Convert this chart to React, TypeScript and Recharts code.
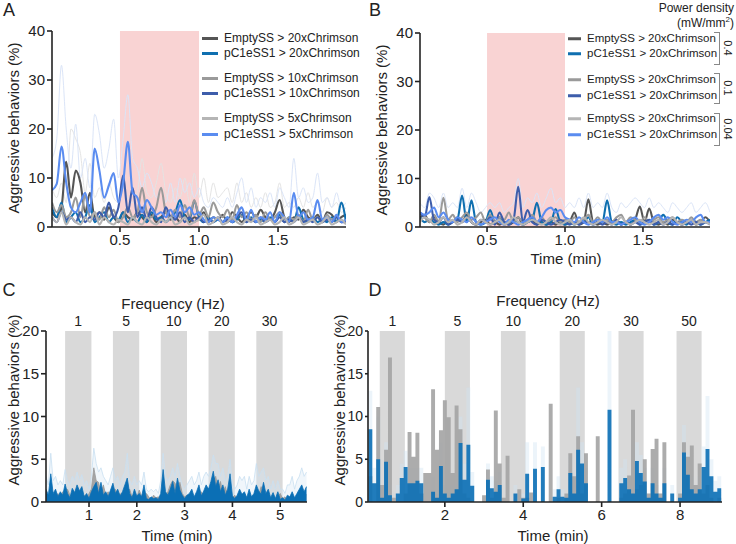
import { ComposedChart, Line, Area, XAxis, YAxis, ReferenceArea } from 'recharts'

// panel A / B: time starts at 0.07 min, one sample every 0.03 min
const abStart = 0.07
const abStep = 0.03

const aDarkGray = [3, 2, 4, 13.3, 6, 11.5, 9, 3, 7, 2, 3, 1.5, 4, 2, 1, 3, 2, 1.5, 3, 2, 1, 2.5, 1, 2, 3, 1.5, 2, 1, 2.5, 1, 2, 1.5, 3, 1, 2, 1.5, 2.5, 1, 3, 2, 1, 2, 3, 2, 3.5, 2, 1.5, 3, 5.5, 2, 1, 2, 1.5, 3.5, 2, 1.5, 2.5, 1, 3, 2.5, 1, 2, 2.5]
const aBlue = [4, 2, 5, 1, 2, 3, 1, 2, 4.5, 1, 2, 3, 1, 2, 1.5, 3, 1, 2, 1, 2.5, 1, 3, 1.5, 2, 1, 2, 3, 5.5, 2, 1.5, 5.3, 2, 1, 2, 1, 1.5, 1, 2, 1, 1.5, 2.5, 1, 2, 1, 1.5, 1, 2, 1, 2.5, 1, 2, 1, 4, 1.5, 1, 2, 1, 1.5, 1, 2, 1, 5, 1]
const aGray = [5, 3, 4.5, 2, 3, 6, 2, 6.5, 2, 3, 1.5, 4, 2, 3.5, 1, 2, 4, 2, 3, 8, 3, 2, 4, 8, 3, 2, 3.5, 2, 4.5, 2, 5.5, 2.5, 4, 2, 5, 3, 2, 3.5, 1.5, 4.5, 2, 3, 1.5, 2.5, 1, 3, 1.5, 2, 3, 1, 2, 1.5, 2.5, 1, 3.5, 1.5, 2, 1, 2.5, 1.5, 2, 1, 1.5]
const aDarkBlue = [2, 1, 3, 1.5, 2, 1, 3, 1, 2, 1.5, 3, 2, 5, 2, 4, 10.5, 3, 8, 2, 4, 1.5, 4, 2, 1, 4, 2, 1.5, 3, 1, 2, 1, 2, 1, 1.5, 1, 2, 1, 1.5, 1, 2, 3, 1, 1.5, 1, 2, 1, 1.5, 1, 2, 1, 1.5, 1, 2, 1, 1.5, 1, 2, 1, 1.5, 1, 2, 1, 1]
const aLightGray = [2, 1, 3, 0.5, 2, 1, 0.5, 2, 1, 3, 0.5, 2, 1, 0.5, 1.5, 1, 0.5, 2, 1, 0.5, 2, 1, 0.5, 1.5, 1, 2, 0.5, 1, 2, 0.5, 1, 1.5, 2.5, 0.5, 1, 2, 0.5, 1, 2, 1, 0.5, 1.5, 1, 2, 0.5, 1, 1.5, 0.5, 1, 2, 0.5, 1, 2, 0.5, 1, 1.5, 0.5, 1, 2, 0.5, 1, 1.5, 0.5]
const aLightBlue = [7.5, 8.8, 16.4, 9, 4, 3, 5, 7, 3, 16, 11.5, 6, 8.5, 11, 5, 9, 17.4, 7, 6, 3, 5.5, 4, 2.5, 3, 2, 3.5, 2, 4.5, 3, 4, 2.5, 3, 1.5, 1, 2, 1.5, 1, 2, 1, 2.5, 4, 1.5, 3.5, 1, 2, 1.5, 3, 1, 3, 2, 1, 7, 2, 3, 1.5, 2, 5.5, 1.5, 2, 1, 2.5, 1, 1.5]
const aUpperBlue = [14, 18, 33, 20, 12, 21, 10, 14, 8, 23, 19, 12, 16, 22, 10, 18, 27, 14, 12, 8, 11, 9, 6, 8, 5, 9, 5, 10, 7, 9, 6, 8, 5, 4, 6, 5, 4, 6, 4, 7, 10, 5, 8, 4, 6, 5, 7, 4, 8, 6, 4, 14, 6, 8, 5, 6, 11, 5, 6, 4, 7, 4, 5]
const aUpperGray = [8, 6, 9, 5, 20, 18, 15, 7, 13, 6, 8, 5, 9, 6, 5, 8, 6, 5, 7, 14, 7, 6, 9, 13, 7, 5, 8, 6, 10, 5, 11, 6, 10, 5, 9, 6, 7, 8, 5, 9, 5, 7, 4, 6, 4, 7, 4, 5, 9, 4, 5, 4, 6, 4, 7, 4, 5, 3, 6, 4, 5, 3, 4]

const bDarkGray = [2, 2.5, 1, 2, 1, 0.5, 1.5, 1, 2, 1, 2.5, 1, 0.5, 1, 1.5, 0.5, 1, 0.5, 1, 0.5, 1, 2, 0.5, 1, 1.5, 0.5, 1, 0.5, 1, 0.5, 1, 0.5, 1, 3, 0.5, 1, 5.7, 1, 0.5, 1, 0.5, 1, 1.5, 0.5, 1, 0.5, 1.5, 4.2, 1, 3.8, 1, 0.5, 1, 0.5, 1.5, 1, 0.5, 1, 1.5, 0.5, 1, 2, 1]
const bBlue = [2, 1, 1.5, 1, 0.5, 1, 0.5, 1, 1.5, 6.5, 1, 5.5, 1, 0.5, 1, 3.5, 1, 2, 0.5, 1, 1.5, 1, 0.5, 1, 1.5, 5, 1, 0.5, 1, 3.7, 1, 0.5, 1, 0.5, 1, 1, 2, 0.5, 1, 1, 5.5, 1, 0.5, 1, 0.5, 1, 1.5, 0.5, 1, 1.5, 0.5, 1, 2.5, 1, 0.5, 2, 1, 0.5, 1.5, 1, 0.5, 1, 1.5]
const bGray = [3, 2, 1, 2.5, 1, 6, 1.5, 2.5, 1, 2, 3, 1.5, 2, 3, 1, 2.5, 1, 2, 1.5, 3, 1, 2, 1, 1.5, 2.5, 1, 2, 1, 1.5, 2, 1, 1.5, 1, 2, 1, 1.5, 2.5, 1, 2, 1, 1.5, 1, 2, 2.5, 1, 2, 1.5, 1, 2, 1, 1.5, 2, 1, 1.5, 2, 1, 1.5, 1, 2, 1, 1.5, 1, 1]
const bDarkBlue = [3, 2, 6.2, 1.5, 1, 2, 0.5, 1, 1.5, 1, 2, 1, 0.5, 1.5, 1, 2, 0.5, 3, 1, 0.5, 1.5, 8.3, 1, 3.5, 1, 0.5, 1.5, 1, 0.5, 1, 1.5, 1, 0.5, 1, 0.5, 1, 1, 0.5, 1, 0.5, 1, 0.5, 1.5, 0.5, 1, 0.5, 1, 0.5, 1, 1.5, 0.5, 1, 0.5, 1, 0.5, 1, 0.5, 1, 0.5, 1, 0.5, 1, 0.5]
const bLightGray = [1, 2, 1.5, 0.5, 1, 2, 1, 1.5, 0.5, 1, 2, 1, 0.5, 1.5, 1, 0.5, 1, 1.5, 0.5, 1, 2, 1, 0.5, 1, 1.5, 1, 0.5, 1, 2, 1, 0.5, 1, 1.5, 0.5, 1, 2, 1, 0.5, 1, 1.5, 1, 0.5, 1, 2, 1, 0.5, 1, 1.5, 1, 0.5, 1, 1.5, 0.5, 1, 2, 1, 0.5, 1, 1.5, 0.5, 1, 1, 0.5]
const bLightBlue = [3, 2.5, 3, 4, 2, 3, 1.5, 1, 2, 1.5, 1, 2, 1, 0.5, 1, 1.5, 2, 1, 0.5, 1.5, 1, 0.5, 1, 1.5, 2, 1, 2, 3.5, 4, 3, 3.5, 2, 1.5, 1, 2, 1, 0.5, 1, 1.5, 1, 2, 1, 1, 0.5, 1, 1.5, 2, 1, 0.5, 1, 2, 2.5, 1.5, 2, 1, 0.5, 1, 1.5, 1, 2, 2.5, 1, 1]
const bUpper = [5, 4, 7, 6, 4, 7, 4, 5, 4, 8, 4, 7, 5, 3, 4, 5, 4, 5, 3, 4, 5, 10, 4, 6, 5, 7, 4, 6, 8, 5, 6, 4, 5, 4, 6, 4, 7, 4, 5, 4, 7, 4, 3, 5, 4, 5, 6, 5, 4, 6, 4, 5, 4, 3, 5, 4, 3, 4, 5, 3, 4, 5, 3]

// panel C: from 0.1 min, every 0.05 min
const cStart = 0.1
const cStep = 0.05
const cBlue = [1.5, 0.8, 3.3, 1, 1.5, 0.6, 1.2, 0.8, 2.1, 1, 0.5, 1.6, 1.1, 2, 1.3, 1.8, 0.6, 1, 0.4, 1.2, 1.8, 2.3, 1, 2.3, 0.8, 1.2, 0.6, 1.4, 2.2, 1, 1.5, 0.7, 1.2, 2, 2.8, 1, 0.5, 1.5, 0.7, 1, 0.6, 2, 0.4, 0.3, 0.6, 0.4, 0.5, 0.3, 1, 3.8, 1.2, 0.8, 1.5, 2.4, 1, 2.8, 1.4, 0.8, 0.4, 0.8, 1, 1.5, 0.6, 1.2, 2, 0.7, 1.3, 2, 1.5, 2.4, 3.6, 1.8, 2.6, 1.2, 2, 0.8, 1.5, 3.3, 0.7, 0.4, 0.8, 1.5, 0.9, 1.2, 0.5, 1.5, 0.6, 1, 2, 1.3, 0.9, 2.3, 1, 1.5, 0.5, 1.1, 0.4, 1.2, 0.3, 0.5, 0.2, 0.8, 0.6, 1.2, 0.5, 1, 1.5, 2, 1.2, 1.8]
const cGray = [1, 0.5, 1.2, 0.8, 0.6, 1, 0.4, 1.2, 0.7, 1.5, 0.8, 0.5, 1, 0.6, 1.2, 0.5, 0.8, 0.3, 1, 1.5, 4, 2.5, 2.3, 1, 2, 0.8, 1.2, 0.6, 1, 1.5, 0.7, 1, 0.4, 1.2, 0.8, 1.5, 0.6, 1, 0.5, 1.4, 0.7, 0.4, 1, 0.6, 0.3, 0.8, 0.5, 0.6, 0.4, 1, 0.7, 1.2, 2, 2.5, 2.2, 1.5, 2.3, 1, 0.6, 0.8, 0.5, 1, 0.4, 0.9, 0.6, 1.2, 0.5, 1, 1.6, 1.2, 2.5, 3, 1.5, 2.4, 1, 1.8, 0.8, 1.2, 0.5, 0.8, 0.3, 0.6, 0.4, 1, 0.5, 0.8, 0.3, 0.6, 1.2, 0.8, 1.8, 1.2, 0.7, 1, 0.4, 0.8, 0.3, 0.6, 1, 0.4, 0.6, 0.3, 0.5, 0.8, 0.4, 0.7, 1, 0.6, 1.2, 0.8]
const cUpper = [3, 2, 5.7, 2.5, 3, 2, 2.5, 2, 3.8, 2.5, 2, 3, 2.5, 3.5, 2.5, 3.2, 2, 2.5, 1.5, 3, 6.3, 4.5, 3.5, 4, 3, 2.5, 2, 3, 4, 2.5, 3, 2, 3, 3.5, 5.7, 2.5, 2, 3, 2, 2.5, 2, 3.5, 1.5, 1.2, 1.5, 1.2, 1.5, 1, 2.5, 5.7, 3, 2.5, 3, 4, 3, 4.5, 3, 2, 1.5, 2, 2.5, 3, 2, 2.5, 3.5, 2, 3, 3.5, 3, 4, 5.5, 4.5, 4.5, 3, 4, 2.5, 3, 5, 2, 1.5, 2, 3, 2.5, 3, 1.5, 3, 2, 2.5, 4.5, 3, 3.5, 4, 2.5, 3, 1.5, 2.5, 1.5, 2.5, 1.5, 1.5, 1, 2, 2, 3, 1.5, 2.5, 3, 4, 3, 3.5]
const cBands = [{ from: 0.5, to: 1.05, label: '1' }, { from: 1.5, to: 2.05, label: '5' }, { from: 2.5, to: 3.05, label: '10' }, { from: 3.5, to: 4.05, label: '20' }, { from: 4.5, to: 5.05, label: '30' }]

// panel D: from 0.05 min, every 0.1 min
const dStart = 0.05
const dStep = 0.1
const dBlue = [8.5, 2.2, 5, 0.5, 4.7, 0.8, 0, 1, 2.8, 4.1, 2.2, 2.2, 2.5, 2.2, 0, 0, 1.2, 0.5, 4.2, 1, 0.5, 1, 1.5, 6.9, 2.6, 6.7, 1.9, 0, 0, 0, 2.6, 1.6, 1.2, 2, 0, 0, 0, 1, 0, 0.4, 3.3, 0, 3.9, 0, 4.1, 0, 0, 0.6, 1.5, 0.6, 0.5, 3.4, 1, 6.1, 4.5, 2.2, 0, 0, 0, 0, 0, 10.8, 0, 0, 2.2, 2.8, 1.5, 1, 4.8, 3.4, 2.4, 0.5, 2.2, 1, 0.5, 2.2, 0, 1, 0, 0.5, 5.8, 3.2, 1.5, 1, 1.5, 4.1, 6.2, 3, 1.2, 1.6, 0.5]
const dGray = [3, 0, 11.1, 2, 6.1, 16.9, 0.5, 0, 0, 1, 8.2, 5.3, 8.1, 1, 3.4, 3.4, 13.2, 6.1, 8.4, 11.9, 9.9, 3.4, 11.3, 8.5, 1, 0.5, 0, 0, 0, 0.8, 3.8, 0.5, 10.7, 4.5, 0.5, 5.4, 0, 0, 1.5, 0.5, 0.5, 1.1, 0, 0, 0, 0, 11.5, 0, 0.5, 0, 1, 5.7, 3, 7.7, 1, 5.7, 0, 0, 7.7, 0, 0, 0, 0, 0, 0.5, 1, 3.1, 10.8, 1.5, 2, 5, 1, 6.2, 7.4, 1, 7, 0, 0, 0, 1, 7, 5.3, 6.6, 2, 4.5, 1, 2, 0.5, 0, 0.5, 0]
const dUpper = [13, 4, 10, 1.5, 7, 2, 0, 2, 4.5, 6, 4, 4, 4, 4, 0, 0, 3, 1, 7, 2, 1, 2, 3, 10, 4.5, 13.4, 3.5, 0, 0, 0, 4.5, 3, 2.5, 3.5, 0, 0, 0, 2, 0, 1, 7, 0, 7, 0, 6.5, 0, 0, 1.5, 3, 1.5, 1, 5.5, 2, 13.4, 7, 4, 0, 0, 0, 0, 0, 20, 0, 0, 4, 5, 3, 2, 7, 5.5, 4, 1, 4, 2, 1, 4, 0, 2, 0, 1, 9, 5.5, 3, 2, 3, 6.5, 12.4, 5, 2.5, 3, 1]
const dBands = [{ from: 0.34, to: 0.98, label: '1' }, { from: 2.0, to: 2.64, label: '5' }, { from: 3.43, to: 4.06, label: '10' }, { from: 4.93, to: 5.57, label: '20' }, { from: 6.43, to: 7.07, label: '30' }, { from: 7.91, to: 8.55, label: '50' }]

const FONT = '"Liberation Sans", Arial, Helvetica, sans-serif'
const INK = '#222'
const col = {
  dark: '#555555',
  blue: '#0f6fb0',
  gray: '#9a9a9a',
  darkBlue: '#3d5dab',
  lightGray: '#b5b5b5',
  lightBlue: '#5a8cf0',
  pink: '#f9d3d3',
  band: '#d9d9d9',
}

const legendA = [
  { name: 'EmptySS > 20xChrimson', color: col.dark, y: 38 },
  { name: 'pC1eSS1 > 20xChrimson', color: col.blue, y: 53 },
  { name: 'EmptySS > 10xChrimson', color: col.gray, y: 78 },
  { name: 'pC1eSS1 > 10xChrimson', color: col.darkBlue, y: 93 },
  { name: 'EmptySS > 5xChrimson', color: col.lightGray, y: 118 },
  { name: 'pC1eSS1 > 5xChrimson', color: col.lightBlue, y: 134 },
]
const legendB = [
  { name: 'EmptySS > 20xChrimson', color: col.dark, y: 39 },
  { name: 'pC1eSS1 > 20xChrimson', color: col.blue, y: 54 },
  { name: 'EmptySS > 20xChrimson', color: col.gray, y: 80 },
  { name: 'pC1eSS1 > 20xChrimson', color: col.darkBlue, y: 96 },
  { name: 'EmptySS > 20xChrimson', color: col.lightGray, y: 119 },
  { name: 'pC1eSS1 > 20xChrimson', color: col.lightBlue, y: 135 },
]
const powerB = [{ label: '0.4', top: 32, bottom: 63 }, { label: '0.1', top: 73, bottom: 102 }, { label: '0.04', top: 113, bottom: 144 }]

const rows = (start: number, step: number, cols: Record<string, number[]>) => {
  const n = Math.max(...Object.values(cols).map((c) => c.length))
  return Array.from({ length: n }, (_, i) => {
    const r: Record<string, number> = { t: +(start + step * i).toFixed(3) }
    for (const k in cols) r[k] = cols[k][i] ?? 0
    return r
  })
}

const dataA = rows(abStart, abStep, { dg: aDarkGray, b: aBlue, g: aGray, db: aDarkBlue, lg: aLightGray, lb: aLightBlue, ub: aUpperBlue, ug: aUpperGray })
const dataB = rows(abStart, abStep, { dg: bDarkGray, b: bBlue, g: bGray, db: bDarkBlue, lg: bLightGray, lb: bLightBlue, ub: bUpper })
const dataC = rows(cStart, cStep, { b: cBlue, g: cGray, u: cUpper })
const dataD = rows(dStart, dStep, { b: dBlue, g: dGray, u: dUpper })

const axisProps = {
  axisLine: { stroke: INK, strokeWidth: 1.6 },
  tickLine: { stroke: INK, strokeWidth: 1.6 },
  tick: { fill: INK, fontSize: 15 },
  tickSize: 5,
}

function Txt({ x, y, size = 15, rotate = 0, children }: { x: number; y: number; size?: number; rotate?: number; children: any }) {
  return (
    <div style={{ position: 'absolute', left: x, top: y, transform: `translate(-50%, -50%) rotate(${rotate}deg)`, fontSize: size, whiteSpace: 'nowrap', color: INK, lineHeight: 1 }}>
      {children}
    </div>
  )
}

function Legend({ items, x, lineW, size }: { items: { name: string; color: string; y: number }[]; x: number; lineW: number; size: number }) {
  return (
    <>
      {items.map((it, i) => (
        <div key={i} style={{ position: 'absolute', left: x, top: it.y, transform: 'translateY(-50%)', display: 'flex', alignItems: 'center', fontSize: size, color: INK, whiteSpace: 'nowrap', lineHeight: 1 }}>
          <span style={{ display: 'inline-block', width: lineW, height: 3, background: it.color, marginRight: 6 }} />
          {it.name}
        </div>
      ))}
    </>
  )
}

function linePanel(withGrayUpper: boolean) {
  const line = (key: string, color: string, w = 2.1) => (
    <Line key={key} dataKey={key} type="monotone" stroke={color} strokeWidth={w} dot={false} isAnimationActive={false} />
  )
  return [
    <XAxis key="x" dataKey="t" type="number" domain={[0.07, 1.93]} ticks={[0.5, 1, 1.5]} tickFormatter={(v: number) => v.toFixed(1)} allowDataOverflow height={30} {...axisProps} />,
    <YAxis key="y" type="number" domain={[0, 40]} ticks={[0, 10, 20, 30, 40]} allowDataOverflow width={40} {...axisProps} />,
    <ReferenceArea key="pink" x1={0.5} x2={1.0} y1={0} y2={40} fill={col.pink} fillOpacity={1} stroke="none" zIndex={-50} />,
    withGrayUpper ? line('ug', '#e4e4e4', 1) : null,
    line('ub', '#dbe5f8', 1),
    line('dg', col.dark),
    line('b', col.blue),
    line('g', col.gray),
    line('db', col.darkBlue),
    line('lb', col.lightBlue),
    line('lg', col.lightGray),
  ]
}

export default function App() {
  return (
    <div style={{ position: 'absolute', left: 0, top: 0, width: 736, height: 544, fontFamily: FONT, background: '#fff', overflow: 'hidden' }}>
      {/* A */}
      <div style={{ position: 'absolute', left: 0, top: 0 }}>
        <ComposedChart width={368} height={272} data={dataA} margin={{ top: 31, right: 22, bottom: 15, left: 12 }}>
          {linePanel(true)}
        </ComposedChart>
      </div>
      {/* B */}
      <div style={{ position: 'absolute', left: 368, top: 0 }}>
        <ComposedChart width={368} height={272} data={dataB} margin={{ top: 33, right: 26, bottom: 15, left: 12 }}>
          {linePanel(false)}
        </ComposedChart>
      </div>
      {/* C */}
      <div style={{ position: 'absolute', left: 0, top: 272 }}>
        <ComposedChart width={368} height={272} data={dataC} margin={{ top: 59, right: 61, bottom: 12, left: 10 }}>
          <XAxis dataKey="t" type="number" domain={[0.1, 5.56]} ticks={[1, 2, 3, 4, 5]} allowDataOverflow height={30} {...axisProps} />
          <YAxis type="number" domain={[0, 20]} ticks={[0, 5, 10, 15, 20]} allowDataOverflow width={36} {...axisProps} />
          {cBands.map((b) => (
            <ReferenceArea key={b.label} x1={b.from} x2={b.to} y1={0} y2={20} fill={col.band} fillOpacity={1} stroke="none" zIndex={-50}
              label={{ value: b.label, position: 'top', offset: 5, fill: INK, fontSize: 14 }} />
          ))}
          <Area dataKey="u" type="linear" stroke="#c9e0f1" strokeWidth={0.8} fill="#d4e6f4" fillOpacity={0.35} isAnimationActive={false} />
          <Area dataKey="g" type="linear" stroke="#999" strokeWidth={0.8} fill="#9c9c9c" fillOpacity={0.9} isAnimationActive={false} />
          <Area dataKey="b" type="linear" stroke="#0b6fb5" strokeWidth={0.8} fill="#0b6fb5" fillOpacity={1} isAnimationActive={false} />
        </ComposedChart>
      </div>
      {/* D */}
      <div style={{ position: 'absolute', left: 330, top: 272 }}>
        <ComposedChart width={406} height={272} data={dataD} margin={{ top: 59, right: 14, bottom: 12, left: 8 }}>
          <XAxis dataKey="t" type="number" domain={[0.04, 9.07]} ticks={[2, 4, 6, 8]} allowDataOverflow height={30} {...axisProps} />
          <YAxis type="number" domain={[0, 20]} ticks={[0, 5, 10, 15, 20]} allowDataOverflow width={30} {...axisProps} tickSize={3} tick={{ fill: INK, fontSize: 14 }} />
          {dBands.map((b) => (
            <ReferenceArea key={b.label} x1={b.from} x2={b.to} y1={0} y2={20} fill={col.band} fillOpacity={1} stroke="none" zIndex={-50}
              label={{ value: b.label, position: 'top', offset: 5, fill: INK, fontSize: 14 }} />
          ))}
          <Area dataKey="u" type="stepAfter" stroke="none" fill="#cfe3f2" fillOpacity={0.4} isAnimationActive={false} />
          <Area dataKey="g" type="stepAfter" stroke="none" fill="#a3a3a3" fillOpacity={0.9} isAnimationActive={false} />
          <Area dataKey="b" type="stepAfter" stroke="none" fill="#0b6fb5" fillOpacity={0.9} isAnimationActive={false} />
        </ComposedChart>
      </div>

      {/* panel letters */}
      <Txt x={9} y={10} size={18}>A</Txt>
      <Txt x={375} y={10} size={18}>B</Txt>
      <Txt x={9} y={290} size={18}>C</Txt>
      <Txt x={375} y={290} size={18}>D</Txt>

      {/* axis titles */}
      <Txt x={13} y={128} rotate={-90}>Aggressive behaviors (%)</Txt>
      <Txt x={381} y={130} rotate={-90}>Aggressive behaviors (%)</Txt>
      <Txt x={13} y={400} rotate={-90}>Aggressive behaviors (%)</Txt>
      <Txt x={339} y={400} rotate={-90}>Aggressive behaviors (%)</Txt>
      <Txt x={198} y={258}>Time (min)</Txt>
      <Txt x={566} y={258}>Time (min)</Txt>
      <Txt x={177} y={535}>Time (min)</Txt>
      <Txt x={553} y={535}>Time (min)</Txt>
      <Txt x={173} y={303}>Frequency (Hz)</Txt>
      <Txt x={548} y={300}>Frequency (Hz)</Txt>

      {/* legends */}
      <Legend items={legendA} x={202} lineW={16} size={12} />
      <Legend items={legendB} x={568} lineW={13} size={11.5} />
      <div style={{ position: 'absolute', right: 2, top: 1, fontSize: 12, color: INK, textAlign: 'right', lineHeight: '15px' }}>
        Power density
        <br />
        (mW/mm<sup style={{ fontSize: 8, lineHeight: 0 }}>2</sup>)
      </div>
      {powerB.map((p) => (
        <div key={p.label}>
          <div style={{ position: 'absolute', left: 714, top: p.top, width: 5, height: p.bottom - p.top, borderTop: '1px solid #888', borderRight: '1px solid #888', borderBottom: '1px solid #888' }} />
          <Txt x={727} y={(p.top + p.bottom) / 2} size={11} rotate={90}>{p.label}</Txt>
        </div>
      ))}
    </div>
  )
}
